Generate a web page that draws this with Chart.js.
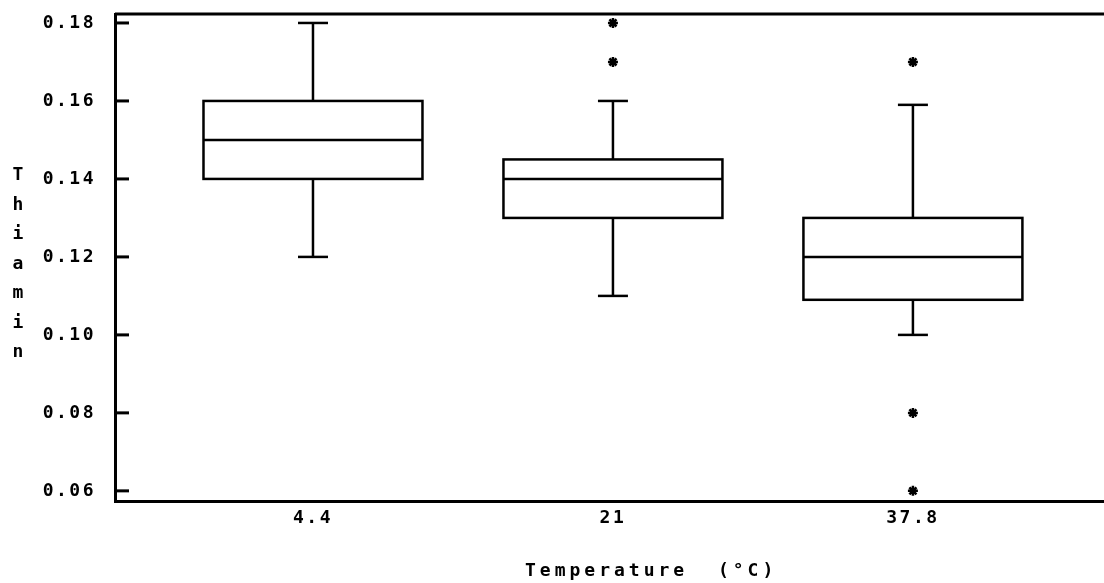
<!doctype html>
<html lang="en">
<head>
<meta charset="UTF-8">
<title>Thiamin by storage temperature</title>
<style>
    html, body {
        margin: 0;
        padding: 0;
        background: #fff;
    }
    canvas {
        display: block;
    }
</style>
</head>
<body>
<canvas id="chart" width="1104" height="583"></canvas>
<script src="https://cdn.jsdelivr.net/npm/chart.js@4.4.1/dist/chart.umd.min.js"></script>
<script>
    // box statistics per storage temperature
    var temperatures = ['4.4', '21', '37.8'];
    var whiskerLow = [0.12, 0.11, 0.10];
    var quartile1 = [0.14, 0.13, 0.109];
    var medians = [0.15, 0.14, 0.12];
    var quartile3 = [0.16, 0.145, 0.13];
    var whiskerHigh = [0.18, 0.16, 0.159];
    var outliers = [[], [0.17, 0.18], [0.17, 0.08, 0.06]];
    var yTicks = [0.06, 0.08, 0.10, 0.12, 0.14, 0.16, 0.18];

    var BOX_WIDTH = 0.73;   // in category units
    var CAP_WIDTH = 0.1;
    var FONT = '"DejaVu Sans Mono", monospace';

    var outlierPoints = [];
    outliers.forEach(function (vals, i) {
        vals.forEach(function (v) { outlierPoints.push({ x: i, y: v }); });
    });

    function line(ctx, x1, y1, x2, y2) {
        ctx.beginPath();
        ctx.moveTo(x1, y1);
        ctx.lineTo(x2, y2);
        ctx.stroke();
    }

    var boxPlot = {
        id: 'boxPlot',
        beforeDraw: function (chart) {
            var ctx = chart.ctx;
            ctx.save();
            ctx.fillStyle = '#fff';
            ctx.fillRect(0, 0, chart.width, chart.height);
            ctx.restore();
            ctx.letterSpacing = '2.5px'; // wide plotter-style tick labels
        },
        afterDatasetsDraw: function (chart) {
            var ctx = chart.ctx;
            var x = chart.scales.x, y = chart.scales.y, area = chart.chartArea;
            ctx.save();
            ctx.strokeStyle = '#000';
            ctx.lineWidth = 3;
            // top frame, no right side
            line(ctx, area.left, area.top, chart.width, area.top);
            // tick marks point inward
            yTicks.forEach(function (v) {
                var py = y.getPixelForValue(v);
                line(ctx, area.left, py, area.left + 14, py);
            });

            ctx.lineWidth = 2.5;
            temperatures.forEach(function (t, i) {
                var cx = x.getPixelForValue(i);
                var left = x.getPixelForValue(i - BOX_WIDTH / 2);
                var right = x.getPixelForValue(i + BOX_WIDTH / 2);
                var capL = x.getPixelForValue(i - CAP_WIDTH / 2);
                var capR = x.getPixelForValue(i + CAP_WIDTH / 2);
                var lo = y.getPixelForValue(whiskerLow[i]);
                var q1 = y.getPixelForValue(quartile1[i]);
                var med = y.getPixelForValue(medians[i]);
                var q3 = y.getPixelForValue(quartile3[i]);
                var hi = y.getPixelForValue(whiskerHigh[i]);

                ctx.strokeRect(left, q3, right - left, q1 - q3);
                line(ctx, left, med, right, med);
                line(ctx, cx, q3, cx, hi);
                line(ctx, capL, hi, capR, hi);
                line(ctx, cx, q1, cx, lo);
                line(ctx, capL, lo, capR, lo);
            });
            ctx.restore();
        },
        afterDraw: function (chart) {
            var ctx = chart.ctx;
            ctx.save();
            ctx.fillStyle = '#000';
            ctx.font = 'bold 18px ' + FONT;
            ctx.textBaseline = 'alphabetic';

            ctx.letterSpacing = '4px';
            ctx.textAlign = 'left';
            ctx.fillText('Temperature  (°C)', 525, 576);

            // y title, one letter per row
            ctx.letterSpacing = '0px';
            ctx.textAlign = 'center';
            'Thiamin'.split('').forEach(function (ch, k) {
                ctx.fillText(ch, 18, 180 + k * 29.5);
            });
            ctx.restore();
        }
    };

    var tickFont = { family: FONT, size: 18, weight: 'bold' };

    new Chart(document.getElementById('chart'), {
        type: 'scatter',
        data: {
            datasets: [{
                data: outlierPoints,
                pointStyle: 'star',
                radius: 5,
                borderWidth: 2.5,
                borderColor: '#000',
                backgroundColor: '#000'
            }]
        },
        options: {
            responsive: false,
            animation: false,
            layout: {
                autoPadding: false,
                padding: { top: 14, left: 0, right: 0, bottom: 0 }
            },
            plugins: {
                legend: { display: false },
                tooltip: { enabled: false }
            },
            scales: {
                x: {
                    type: 'linear',
                    min: -0.66,
                    max: 2.637,
                    afterBuildTicks: function (s) {
                        s.ticks = temperatures.map(function (t, i) { return { value: i }; });
                    },
                    afterFit: function (s) {
                        s.height = 82;
                        s.paddingLeft = 0;
                        s.paddingRight = 0;
                    },
                    grid: { display: false, drawTicks: false },
                    border: { display: true, color: '#000', width: 3 },
                    ticks: {
                        color: '#000',
                        font: tickFont,
                        padding: 7,
                        maxRotation: 0,
                        autoSkip: false,
                        callback: function (v) { return temperatures[v]; }
                    }
                },
                y: {
                    type: 'linear',
                    min: 0.0574,
                    max: 0.1823,
                    afterBuildTicks: function (s) {
                        s.ticks = yTicks.map(function (v) { return { value: v }; });
                    },
                    afterFit: function (s) {
                        s.width = 115;
                        s.paddingTop = 0;
                        s.paddingBottom = 0;
                    },
                    grid: { display: false, drawTicks: false },
                    border: { display: true, color: '#000', width: 3 },
                    ticks: {
                        color: '#000',
                        font: tickFont,
                        padding: 19,
                        callback: function (v) { return v.toFixed(2); }
                    }
                }
            }
        },
        plugins: [boxPlot]
    });
</script>
</body>
</html>
